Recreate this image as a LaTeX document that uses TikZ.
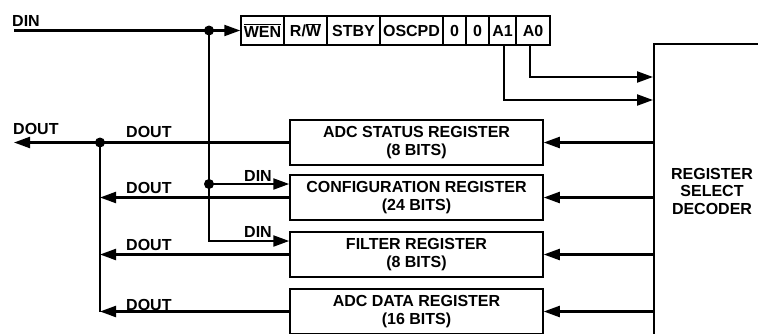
\documentclass[tikz,border=0pt]{standalone}
\usepackage{fontspec}
\setmainfont{Liberation Sans}
\usetikzlibrary{arrows.meta,calc}
\begin{document}
\begin{tikzpicture}[x=1pt,y=-1pt,
  every node/.style={font=\fontsize{16}{17.5}\selectfont\bfseries},
  cell/.style={draw,line width=1.5pt,minimum height=29pt,inner sep=0pt},
  regbox/.style={draw,line width=1.5pt,minimum width=253pt,minimum height=45pt,align=center,inner sep=0pt},
  wire/.style={line width=2.2pt},
  arr/.style={wire,-{Triangle[length=16pt,width=11pt]}},
  dot/.style={circle,fill,inner sep=0pt,minimum size=10pt},
  lbl/.style={anchor=base west,inner sep=0pt}]
\useasboundingbox (0,0) rectangle (758,333);
\clip (0,0) rectangle (758,333);
% register fields
\node[cell,minimum width=43pt] (wen) at (262.5,30.5) {$\overline{\hbox{WEN}}$};
\node[cell,minimum width=43pt] (rw) at (305.5,30.5) {R/$\overline{\hbox{W}}$};
\node[cell,minimum width=53pt] (stby) at (353.5,30.5) {STBY};
\node[cell,minimum width=63pt] (oscpd) at (411.5,30.5) {OSCPD};
\node[cell,minimum width=23pt] (za) at (454.5,30.5) {0};
\node[cell,minimum width=23pt] (zb) at (477.5,30.5) {0};
\node[cell,minimum width=27pt] (a1) at (502.5,30.5) {A1};
\node[cell,minimum width=34pt] (a0) at (533,30.5) {A0};
% decoder
\node[draw,line width=1.5pt,minimum width=150pt,minimum height=320pt,anchor=north west] (dec) at (653,43) {};
\node[align=center,inner sep=0pt] (dectext) at (712,191) {REGISTER\\SELECT\\DECODER};
% registers
\node[regbox] (st) at (416.5,142.5) {ADC STATUS REGISTER\\(8 BITS)};
\node[regbox] (cf) at (416.5,197.5) {CONFIGURATION REGISTER\\(24 BITS)};
\node[regbox] (fl) at (416.5,254.5) {FILTER REGISTER\\(8 BITS)};
\node[regbox] (dt) at (416.5,311.5) {ADC DATA REGISTER\\(16 BITS)};
% A1 / A0 to decoder
\draw[arr] ([xshift=1.5pt]a1.south) |- (dec.west |- 0,100);
\draw[arr] ([xshift=-3pt]a0.south) |- (dec.west |- 0,77);
% decoder to registers
\foreach \r in {st,cf,fl,dt} \draw[arr] (\r.east -| dec.west) -- (\r.east);
% DIN
\coordinate (dinstart) at (14,30.5);
\coordinate (j1) at (209,30.5);
\coordinate (cfin) at ([yshift=13.5pt]cf.west);
\coordinate (flin) at ([yshift=13.5pt]fl.west);
\coordinate (j2) at (j1 |- cfin);
\draw[wire] (dinstart) -- (j1);
\draw[arr] (j1) -- (wen.west);
\draw[arr] (j1) |- (flin);
\draw[arr] (j2) -- (cfin);
\node[dot] (d1) at (j1) {};
\node[dot] (d2) at (j2) {};
% DOUT
\coordinate (doutend) at (14,142.5);
\coordinate (bus) at (100,142.5);
\draw[arr] (st.west) -- (doutend);
\draw[wire] (bus) -- (bus |- dt.west);
\foreach \r in {cf,fl,dt} \draw[arr] (\r.west) -- (\r.west -| bus);
\node[dot] (d3) at (bus) {};
% labels
\node[lbl] (ldin) at (12,26) {DIN};
\node[lbl] (ldout) at (13,134) {DOUT};
\node[lbl] (l1) at (126,137) {DOUT};
\node[lbl] (l2) at (126,193) {DOUT};
\node[lbl] (l3) at (126,250) {DOUT};
\node[lbl] (l4) at (126,310) {DOUT};
\node[lbl] (l5) at (244,181) {DIN};
\node[lbl] (l6) at (244,237) {DIN};
\end{tikzpicture}
\end{document}
